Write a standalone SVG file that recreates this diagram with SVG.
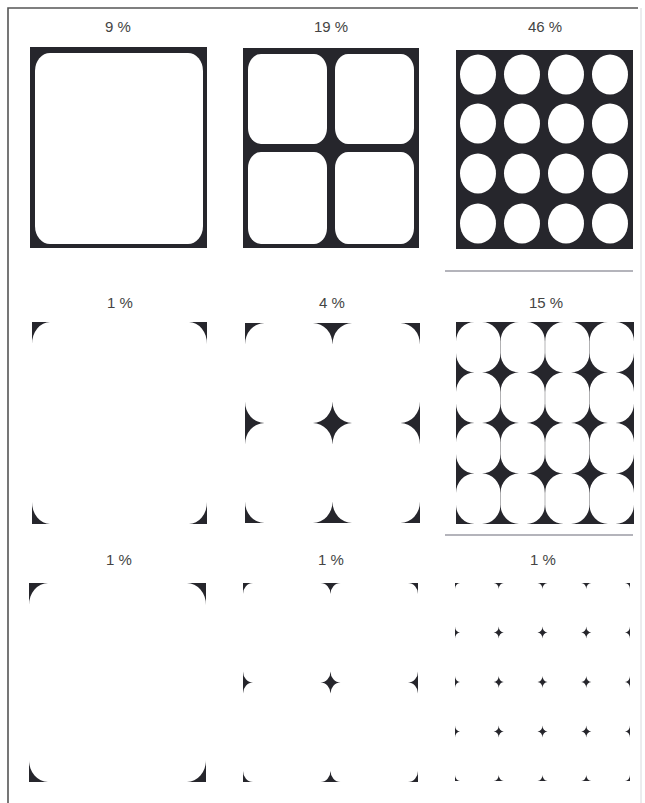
<svg xmlns="http://www.w3.org/2000/svg" xmlns:xlink="http://www.w3.org/1999/xlink" width="645" height="803" viewBox="0 0 645 803">
  <style>
    .lbl { font-family: "Liberation Sans", "DejaVu Sans", sans-serif; font-size: 15px; fill: #444444; text-anchor: middle; }
    .blk { fill: #26262c; }
    .wht { fill: #ffffff; }
    .rule { stroke: #6a6a78; stroke-width: 1.2; fill: none; }
    .frame { stroke: #555; stroke-width: 1.6; fill: none; }
  </style>
  <defs>
    <path id="s" d="M-1,0 A1,1 0 0 0 0,-1 A1,1 0 0 0 1,0 A1,1 0 0 0 0,1 A1,1 0 0 0 -1,0 Z"/>
    <clipPath id="c4"><rect x="32" y="322" width="175" height="202"/></clipPath>
    <clipPath id="c5"><rect x="245" y="323" width="175" height="200"/></clipPath>
    <clipPath id="c6"><rect x="456" y="322" width="178" height="202"/></clipPath>
    <clipPath id="c7"><rect x="29" y="583" width="177" height="199"/></clipPath>
    <clipPath id="c8"><rect x="243" y="583" width="175" height="199"/></clipPath>
    <clipPath id="c9"><rect x="455" y="583" width="175" height="198"/></clipPath>
  </defs>
  <rect width="645" height="803" fill="#ffffff"/>
  <g id="frame">
    <path class="frame" d="M8,803 V8 H638"/>
    <path d="M641,8 V803" stroke="#d8d8dc" stroke-width="1" fill="none"/>
    <path class="rule" d="M445,271 H633"/>
    <path class="rule" d="M445,535 H633"/>
  </g>

  <g id="panel-9pct">
    <text class="lbl" x="118" y="32">9 %</text>
    <rect class="blk" x="30" y="47" width="177" height="201"/>
    <rect class="wht" x="35" y="53" width="168" height="191" rx="15" ry="18"/>
  </g>

  <g id="panel-19pct">
    <text class="lbl" x="331" y="32">19 %</text>
    <rect class="blk" x="243" y="48" width="176" height="200"/>
    <rect class="wht" x="248" y="54" width="79" height="90" rx="13" ry="16"/>
    <rect class="wht" x="335" y="54" width="79" height="90" rx="13" ry="16"/>
    <rect class="wht" x="248" y="152" width="79" height="92" rx="13" ry="16"/>
    <rect class="wht" x="335" y="152" width="79" height="92" rx="13" ry="16"/>
  </g>

  <g id="panel-46pct">
    <text class="lbl" x="545" y="32">46 %</text>
    <rect class="blk" x="456" y="50" width="177" height="199"/>
    <g class="wht">
      <ellipse cx="478" cy="74.5" rx="18" ry="20"/>
      <ellipse cx="522" cy="74.5" rx="18" ry="20"/>
      <ellipse cx="566" cy="74.5" rx="18" ry="20"/>
      <ellipse cx="610" cy="74.5" rx="18" ry="20"/>
      <ellipse cx="478" cy="123.5" rx="18" ry="20"/>
      <ellipse cx="522" cy="123.5" rx="18" ry="20"/>
      <ellipse cx="566" cy="123.5" rx="18" ry="20"/>
      <ellipse cx="610" cy="123.5" rx="18" ry="20"/>
      <ellipse cx="478" cy="173.5" rx="18" ry="20"/>
      <ellipse cx="522" cy="173.5" rx="18" ry="20"/>
      <ellipse cx="566" cy="173.5" rx="18" ry="20"/>
      <ellipse cx="610" cy="173.5" rx="18" ry="20"/>
      <ellipse cx="478" cy="223.5" rx="18" ry="20"/>
      <ellipse cx="522" cy="223.5" rx="18" ry="20"/>
      <ellipse cx="566" cy="223.5" rx="18" ry="20"/>
      <ellipse cx="610" cy="223.5" rx="18" ry="20"/>
    </g>
  </g>

  <g id="panel-1pct-a">
    <text class="lbl" x="120" y="308">1 %</text>
    <g class="blk" clip-path="url(#c4)">
      <use xlink:href="#s" transform="translate(32,322) scale(18,22)"/>
      <use xlink:href="#s" transform="translate(207,322) scale(18,22)"/>
      <use xlink:href="#s" transform="translate(32,524) scale(18,22)"/>
      <use xlink:href="#s" transform="translate(207,524) scale(18,22)"/>
    </g>
  </g>

  <g id="panel-4pct">
    <text class="lbl" x="332" y="308">4 %</text>
    <g class="blk" clip-path="url(#c5)">
      <use xlink:href="#s" transform="translate(245,323) scale(19.5,21.5)"/>
      <use xlink:href="#s" transform="translate(332.5,323) scale(19.5,21.5)"/>
      <use xlink:href="#s" transform="translate(420,323) scale(19.5,21.5)"/>
      <use xlink:href="#s" transform="translate(245,423) scale(19.5,21.5)"/>
      <use xlink:href="#s" transform="translate(332.5,423) scale(19.5,21.5)"/>
      <use xlink:href="#s" transform="translate(420,423) scale(19.5,21.5)"/>
      <use xlink:href="#s" transform="translate(245,523) scale(19.5,21.5)"/>
      <use xlink:href="#s" transform="translate(332.5,523) scale(19.5,21.5)"/>
      <use xlink:href="#s" transform="translate(420,523) scale(19.5,21.5)"/>
    </g>
  </g>

  <g id="panel-15pct">
    <text class="lbl" x="546" y="308">15 %</text>
    <g class="blk" clip-path="url(#c6)">
      <use xlink:href="#s" transform="translate(456,322) scale(18.5,19.5)"/>
      <use xlink:href="#s" transform="translate(500.5,322) scale(18.5,19.5)"/>
      <use xlink:href="#s" transform="translate(545,322) scale(18.5,19.5)"/>
      <use xlink:href="#s" transform="translate(589.5,322) scale(18.5,19.5)"/>
      <use xlink:href="#s" transform="translate(634,322) scale(18.5,19.5)"/>
      <use xlink:href="#s" transform="translate(456,372.5) scale(18.5,19.5)"/>
      <use xlink:href="#s" transform="translate(500.5,372.5) scale(18.5,19.5)"/>
      <use xlink:href="#s" transform="translate(545,372.5) scale(18.5,19.5)"/>
      <use xlink:href="#s" transform="translate(589.5,372.5) scale(18.5,19.5)"/>
      <use xlink:href="#s" transform="translate(634,372.5) scale(18.5,19.5)"/>
      <use xlink:href="#s" transform="translate(456,423) scale(18.5,19.5)"/>
      <use xlink:href="#s" transform="translate(500.5,423) scale(18.5,19.5)"/>
      <use xlink:href="#s" transform="translate(545,423) scale(18.5,19.5)"/>
      <use xlink:href="#s" transform="translate(589.5,423) scale(18.5,19.5)"/>
      <use xlink:href="#s" transform="translate(634,423) scale(18.5,19.5)"/>
      <use xlink:href="#s" transform="translate(456,473.5) scale(18.5,19.5)"/>
      <use xlink:href="#s" transform="translate(500.5,473.5) scale(18.5,19.5)"/>
      <use xlink:href="#s" transform="translate(545,473.5) scale(18.5,19.5)"/>
      <use xlink:href="#s" transform="translate(589.5,473.5) scale(18.5,19.5)"/>
      <use xlink:href="#s" transform="translate(634,473.5) scale(18.5,19.5)"/>
      <use xlink:href="#s" transform="translate(456,524) scale(18.5,19.5)"/>
      <use xlink:href="#s" transform="translate(500.5,524) scale(18.5,19.5)"/>
      <use xlink:href="#s" transform="translate(545,524) scale(18.5,19.5)"/>
      <use xlink:href="#s" transform="translate(589.5,524) scale(18.5,19.5)"/>
      <use xlink:href="#s" transform="translate(634,524) scale(18.5,19.5)"/>
    </g>
    <path d="M500.5,322 V524 M545,322 V524 M589.5,322 V524" stroke="#26262c" stroke-width="0.6" fill="none" opacity="0.6"/>
  </g>

  <g id="panel-1pct-b">
    <text class="lbl" x="119" y="565">1 %</text>
    <g class="blk" clip-path="url(#c7)">
      <use xlink:href="#s" transform="translate(29,583) scale(19,22)"/>
      <use xlink:href="#s" transform="translate(206,583) scale(19,22)"/>
      <use xlink:href="#s" transform="translate(29,782) scale(19,22)"/>
      <use xlink:href="#s" transform="translate(206,782) scale(19,22)"/>
    </g>
  </g>

  <g id="panel-1pct-c">
    <text class="lbl" x="331" y="565">1 %</text>
    <g class="blk" clip-path="url(#c8)">
      <use xlink:href="#s" transform="translate(243,583) scale(10,11)"/>
      <use xlink:href="#s" transform="translate(330.5,583) scale(10,11)"/>
      <use xlink:href="#s" transform="translate(418,583) scale(10,11)"/>
      <use xlink:href="#s" transform="translate(243,682.5) scale(10,11)"/>
      <use xlink:href="#s" transform="translate(330.5,682.5) scale(10,11)"/>
      <use xlink:href="#s" transform="translate(418,682.5) scale(10,11)"/>
      <use xlink:href="#s" transform="translate(243,782) scale(10,11)"/>
      <use xlink:href="#s" transform="translate(330.5,782) scale(10,11)"/>
      <use xlink:href="#s" transform="translate(418,782) scale(10,11)"/>
    </g>
  </g>

  <g id="panel-1pct-d">
    <text class="lbl" x="543" y="565">1 %</text>
    <g class="blk" clip-path="url(#c9)">
      <use xlink:href="#s" transform="translate(455,583) scale(5,6)"/>
      <use xlink:href="#s" transform="translate(498.75,583) scale(5,6)"/>
      <use xlink:href="#s" transform="translate(542.5,583) scale(5,6)"/>
      <use xlink:href="#s" transform="translate(586.25,583) scale(5,6)"/>
      <use xlink:href="#s" transform="translate(630,583) scale(5,6)"/>
      <use xlink:href="#s" transform="translate(455,632.5) scale(5,6)"/>
      <use xlink:href="#s" transform="translate(498.75,632.5) scale(5,6)"/>
      <use xlink:href="#s" transform="translate(542.5,632.5) scale(5,6)"/>
      <use xlink:href="#s" transform="translate(586.25,632.5) scale(5,6)"/>
      <use xlink:href="#s" transform="translate(630,632.5) scale(5,6)"/>
      <use xlink:href="#s" transform="translate(455,682) scale(5,6)"/>
      <use xlink:href="#s" transform="translate(498.75,682) scale(5,6)"/>
      <use xlink:href="#s" transform="translate(542.5,682) scale(5,6)"/>
      <use xlink:href="#s" transform="translate(586.25,682) scale(5,6)"/>
      <use xlink:href="#s" transform="translate(630,682) scale(5,6)"/>
      <use xlink:href="#s" transform="translate(455,731.5) scale(5,6)"/>
      <use xlink:href="#s" transform="translate(498.75,731.5) scale(5,6)"/>
      <use xlink:href="#s" transform="translate(542.5,731.5) scale(5,6)"/>
      <use xlink:href="#s" transform="translate(586.25,731.5) scale(5,6)"/>
      <use xlink:href="#s" transform="translate(630,731.5) scale(5,6)"/>
      <use xlink:href="#s" transform="translate(455,781) scale(5,6)"/>
      <use xlink:href="#s" transform="translate(498.75,781) scale(5,6)"/>
      <use xlink:href="#s" transform="translate(542.5,781) scale(5,6)"/>
      <use xlink:href="#s" transform="translate(586.25,781) scale(5,6)"/>
      <use xlink:href="#s" transform="translate(630,781) scale(5,6)"/>
    </g>
  </g>
</svg>
